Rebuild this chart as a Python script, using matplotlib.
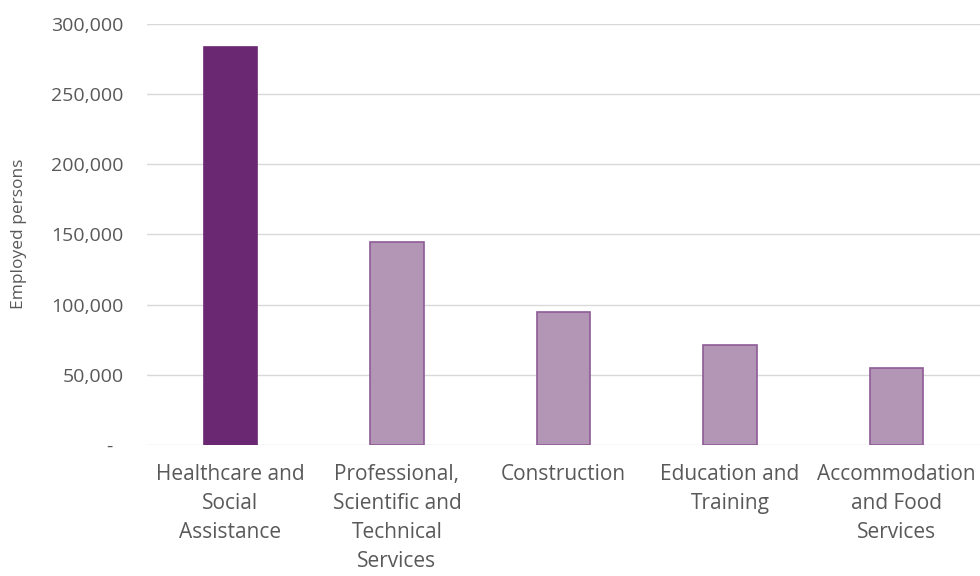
import matplotlib.pyplot as plt
from matplotlib.ticker import FuncFormatter, MultipleLocator

plt.rcParams['font.family'] = ['Open Sans', 'DejaVu Sans']

industries = ['Healthcare and\nSocial\nAssistance',
              'Professional,\nScientific and\nTechnical\nServices',
              'Construction',
              'Education and\nTraining',
              'Accommodation\nand Food\nServices']
employed = [283000, 144500, 95000, 71500, 55000]

dark = '#6B2872'
light = '#B396B6'
edge = '#8E5A96'
text_col = '#595959'

fig = plt.figure(figsize=(9.8, 5.76), dpi=100)
ax = fig.add_axes([0.15, 0.2274, 0.85, 0.7318])

x = range(len(industries))
fills = [dark] + [light] * (len(industries) - 1)
edges = [dark] + [edge] * (len(industries) - 1)
ax.bar(x, employed, width=0.32, color=fills, edgecolor=edges, linewidth=1.2, zorder=3)

ax.set_xlim(-0.5, 4.5)
ax.set_ylim(0, 300000)
ax.yaxis.set_major_locator(MultipleLocator(50000))
ax.yaxis.set_major_formatter(FuncFormatter(lambda v, p: '-  ' if v == 0 else f'{v:,.0f}'))
ax.grid(axis='y', color='#D9D9D9', linewidth=1.0, zorder=0)
ax.set_axisbelow(True)

for s in ax.spines.values():
    s.set_visible(False)
ax.tick_params(axis='both', length=0, colors=text_col)
ax.tick_params(axis='y', labelsize=14, pad=17)
ax.set_xticks(list(x))
ax.set_xticklabels(industries, fontsize=15, color=text_col, linespacing=1.5, va='top')
ax.tick_params(axis='x', pad=14)

ax.set_ylabel('Employed persons', fontsize=12.5, color=text_col, labelpad=17)

fig.savefig('out.png', dpi=100)
